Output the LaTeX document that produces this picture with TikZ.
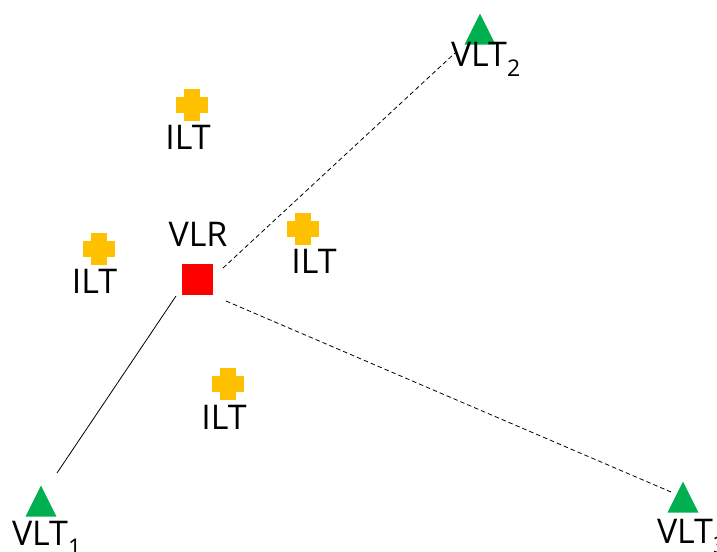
\documentclass[tikz,border=0pt]{standalone}
\usepackage{fontspec}
\setmainfont{Open Sans}
\usetikzlibrary{shapes.geometric}
\definecolor{vlrred}{HTML}{FF0000}
\definecolor{vltgreen}{HTML}{00B050}
\definecolor{iltgold}{HTML}{FFC000}
\newcommand{\sub}[1]{\raisebox{-10bp}{\fontsize{23bp}{24bp}\selectfont #1}}
\begin{document}
\begin{tikzpicture}[x=1bp,y=-1bp,
  lbl/.style={inner sep=0pt, outer sep=0pt, font=\fontsize{34bp}{40bp}\selectfont},
  vlrbox/.style={fill=vlrred, minimum size=31bp, inner sep=0pt},
  vltmark/.style={isosceles triangle, shape border rotate=90, isosceles triangle stretches=true,
    minimum height=31bp, minimum width=31bp, fill=vltgreen, inner sep=0pt, anchor=apex},
  plusmark/.style={minimum size=32bp, inner sep=0pt, outer sep=0pt,
    path picture={
      \fill[iltgold] ([xshift=-8bp]path picture bounding box.north) rectangle ([xshift=8bp]path picture bounding box.south);
      \fill[iltgold] ([yshift=8bp]path picture bounding box.west) rectangle ([yshift=-8bp]path picture bounding box.east);
    }},
  link/.style={line width=0.8bp, black},
  dlink/.style={link, dash pattern=on 4.5bp off 3bp}]
\useasboundingbox (0,0) rectangle (717,552);
\fill[white] (0,0) rectangle (717,552);

% VLR
\node[vlrbox] (vlr) at (197.5,279.5) {};
\node[lbl, anchor=base] (vlrlabel) at (198,247) {VLR};

% VLTs
\node[vltmark] (vlt1) at (41,485) {};
\node[lbl, anchor=base west] (vlt1label) at (12,545) {VLT\sub{1}};
\node[vltmark] (vlt2) at (480,13) {};
\node[lbl, anchor=base west] (vlt2label) at (451,67) {VLT\sub{2}};
\node[vltmark] (vlt3) at (683,481) {};
\node[lbl, anchor=base west] (vlt3label) at (657,543) {VLT\sub{3}};

% ILTs
\node[plusmark] (ilt1) at (192,105) {};
\node[lbl, anchor=base] (ilt1label) at (188,150) {ILT};
\node[plusmark] (ilt2) at (99,249) {};
\node[lbl, anchor=base] (ilt2label) at (94.5,293) {ILT};
\node[plusmark] (ilt3) at (303,229) {};
\node[lbl, anchor=base] (ilt3label) at (314,274) {ILT};
\node[plusmark] (ilt4) at (228,384) {};
\node[lbl, anchor=base] (ilt4label) at (224,429) {ILT};

% connector ends
\coordinate (vlrsw) at (176,296);
\coordinate (vlrne) at (223,268);
\coordinate (vlrse) at (226,301);
\coordinate (vlt1end) at (57,473);
\coordinate (vlt2end) at (455,53);
\coordinate (vlt3end) at (671,492);

\draw[link] (vlrsw) -- (vlt1end);
\draw[dlink] (vlrne) -- (vlt2end);
\draw[dlink] (vlrse) -- (vlt3end);
\end{tikzpicture}
\end{document}
